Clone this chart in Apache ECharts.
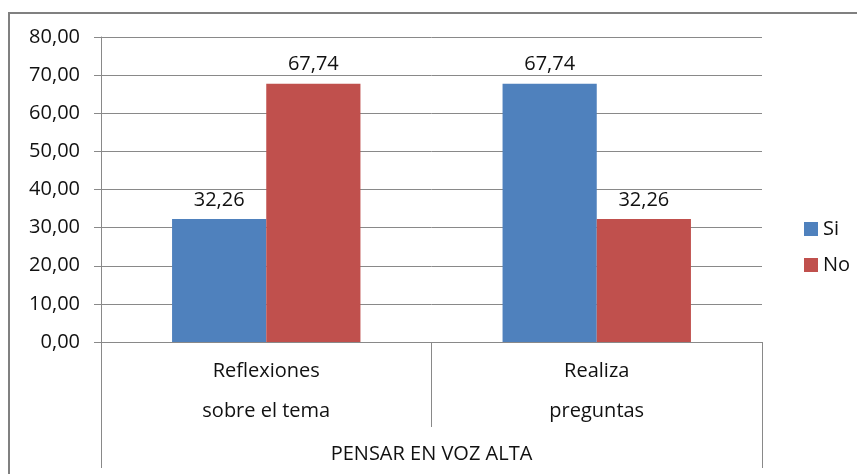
<!DOCTYPE html>
<html lang="es">
<head>
    <meta charset="UTF-8">
    <title>Pensar en voz alta</title>
    <style>
        * { padding: 0; margin: 0; box-sizing: border-box; }
        html, body { width: 100%; height: 100%; overflow: hidden; background: #fff; }
        #box { width: 857px; height: 474px; }
    </style>
</head>
<body>
    <div id="box"></div>
</body>
<script src="https://cdn.jsdelivr.net/npm/echarts@6/dist/echarts.min.js"></script>
<script>
    var categories = ["Reflexiones\nsobre el tema", "Realiza\npreguntas"];
    var groupLabel = ["PENSAR EN VOZ ALTA"];
    var siValues = [32.26, 67.74];
    var noValues = [67.74, 32.26];
    var seriesNames = ["Si", "No"];

    var font = "Open Sans";
    var gray = "#898989";
    var fmt = function (v) { return Number(v).toFixed(2).replace(".", ","); };

    var box = echarts.init(document.getElementById("box"));
    var option = {
        backgroundColor: "#fff",
        animation: false,
        textStyle: { fontFamily: font },
        graphic: [{
            type: "rect",
            shape: { x: 9, y: 13, width: 900, height: 500 },
            style: { fill: "none", stroke: "#808080", lineWidth: 2 },
            silent: true
        }],
        legend: {
            orient: "vertical",
            left: 799,
            top: 214,
            itemWidth: 14,
            itemHeight: 14,
            itemGap: 16,
            icon: "rect",
            data: seriesNames,
            textStyle: { fontFamily: font, fontSize: 20, color: "#111" }
        },
        grid: { left: 101, right: 95, top: 37, bottom: 132 },
        xAxis: [{
            type: "category",
            data: categories,
            axisLine: { lineStyle: { color: gray, width: 1 } },
            axisTick: { show: true, length: 85, lineStyle: { color: gray } },
            axisLabel: {
                fontFamily: font, fontSize: 20, color: "#111",
                lineHeight: 40, margin: 9, interval: 0
            }
        }, {
            type: "category",
            position: "bottom",
            data: groupLabel,
            axisLine: { show: false },
            axisTick: { show: true, length: 126, lineStyle: { color: gray } },
            axisLabel: {
                fontFamily: font, fontSize: 20, color: "#111",
                lineHeight: 20, margin: 102
            }
        }],
        yAxis: {
            type: "value",
            min: 0,
            max: 80,
            interval: 10,
            axisLine: { show: true, lineStyle: { color: gray } },
            axisTick: { show: true, length: 7, lineStyle: { color: gray } },
            splitLine: { lineStyle: { color: gray } },
            axisLabel: {
                fontFamily: font, fontSize: 20, color: "#111", margin: 21,
                formatter: fmt
            }
        },
        series: [{
            name: seriesNames[0],
            type: "bar",
            data: siValues,
            barGap: "0%",
            barCategoryGap: "43%",
            itemStyle: { color: "#4F81BD" },
            label: {
                show: true, position: "top", distance: 9,
                fontFamily: font, fontSize: 20, color: "#111",
                formatter: function (p) { return fmt(p.value); }
            }
        }, {
            name: seriesNames[1],
            type: "bar",
            data: noValues,
            barGap: "0%",
            barCategoryGap: "43%",
            itemStyle: { color: "#C0504D" },
            label: {
                show: true, position: "top", distance: 9,
                fontFamily: font, fontSize: 20, color: "#111",
                formatter: function (p) { return fmt(p.value); }
            }
        }]
    };
    box.setOption(option);
</script>
</html>
